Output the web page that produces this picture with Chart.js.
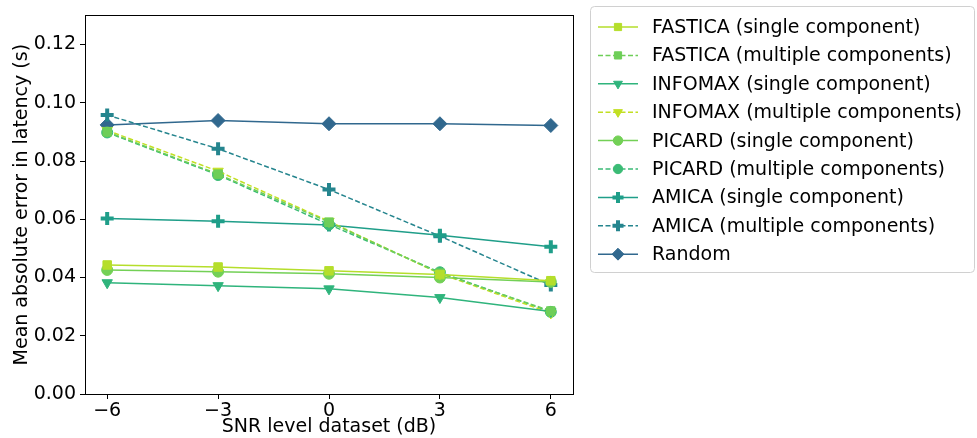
<!DOCTYPE html>
<html>
<head>
<meta charset="utf-8">
<script src="https://cdn.jsdelivr.net/npm/chart.js@4.4.1/dist/chart.umd.min.js"></script>
<style>
  html, body { margin: 0; padding: 0; background: #fff; }
  #wrap { width: 977px; height: 438px; position: relative; }
</style>
</head>
<body>
<div id="wrap"><canvas id="myChart" width="977" height="438"></canvas></div>
<script>
// SNR levels (dB)
const snrLevels = [-6, -3, 0, 3, 6];

// mean absolute error in latency (s)
const fasticaSingle   = [0.0443, 0.0436, 0.0423, 0.0410, 0.0389];
const fasticaMultiple = [0.0900, 0.0755, 0.0590, 0.0415, 0.0285];
const infomaxSingle   = [0.0382, 0.0372, 0.0361, 0.0331, 0.0283];
const infomaxMultiple = [0.0905, 0.0765, 0.0593, 0.0413, 0.0278];
const picardSingle    = [0.0426, 0.0420, 0.0413, 0.0400, 0.0385];
const picardMultiple  = [0.0898, 0.0752, 0.0582, 0.0418, 0.0282];
const amicaSingle     = [0.0603, 0.0593, 0.0580, 0.0545, 0.0506];
const amicaMultiple   = [0.0958, 0.0842, 0.0702, 0.0542, 0.0374];
const randomBaseline  = [0.0924, 0.0939, 0.0928, 0.0928, 0.0922];

const yTicks = [0, 0.02, 0.04, 0.06, 0.08, 0.10, 0.12];

const FONT = "'DejaVu Sans', sans-serif";
const FS = 19;

function series(label, values, color, style, dashed) {
    let ds = {
        label: label,
        data: values.map((v, i) => ({x: snrLevels[i], y: v})),
        borderColor: color,
        backgroundColor: color,
        pointBackgroundColor: color,
        pointBorderColor: color,
        borderWidth: 1.5,
        borderDash: dashed ? [5, 2.5] : [],
        pointRadius: 5.5,
        pointBorderWidth: 1,
        pointRotation: 0,
        pointStyle: style,
        tension: 0,
        fill: false,
    };
    if (style === 'triangle') { ds.pointRotation = 180; ds.pointRadius = 6; }
    if (style === 'rect') { ds.pointRadius = 6; }
    if (style === 'rectRot') { ds.pointRadius = 7; }
    if (style === 'cross') { ds.pointBorderWidth = 4; ds.pointRadius = 6.5; }
    return ds;
}

const datasets = [
    series("FASTICA (single component)", fasticaSingle, "#b5de2b", 'rect', false),
    series("FASTICA (multiple components)", fasticaMultiple, "#6ece58", 'rect', true),
    series("INFOMAX (single component)", infomaxSingle, "#2fb47c", 'triangle', false),
    series("INFOMAX (multiple components)", infomaxMultiple, "#c2df23", 'triangle', true),
    series("PICARD (single component)", picardSingle, "#73d056", 'circle', false),
    series("PICARD (multiple components)", picardMultiple, "#3bbb75", 'circle', true),
    series("AMICA (single component)", amicaSingle, "#1f9e89", 'cross', false),
    series("AMICA (multiple components)", amicaMultiple, "#25858e", 'cross', true),
    series("Random", randomBaseline, "#31688e", 'rectRot', false),
];

// frame around the plot area
const frame = {
    id: 'frame',
    afterDatasetsDraw(chart) {
        const a = chart.chartArea, c = chart.ctx;
        c.save();
        c.strokeStyle = '#000';
        c.lineWidth = 1;
        c.strokeRect(Math.round(a.left) + 0.5, Math.round(a.top) + 0.5,
                     Math.round(a.right - a.left), Math.round(a.bottom - a.top));
        c.restore();
    }
};

// matplotlib-like legend on the right
const sideLegend = {
    id: 'sideLegend',
    afterDraw(chart) {
        const c = chart.ctx;
        const bx = 590.5, by = 6.5, bw = 384, bh = 266;
        c.save();
        c.beginPath();
        c.roundRect(bx, by, bw, bh, 4);
        c.fillStyle = 'rgba(255,255,255,0.8)';
        c.fill();
        c.strokeStyle = '#d0d0d0';
        c.lineWidth = 1;
        c.stroke();
        c.font = FS + "px " + FONT;
        c.textBaseline = 'middle';
        chart.data.datasets.forEach((ds, i) => {
            const y = 27 + i * 28.4;
            c.strokeStyle = ds.borderColor;
            c.lineWidth = 1.5;
            c.setLineDash(ds.borderDash);
            c.beginPath();
            c.moveTo(598, y);
            c.lineTo(638, y);
            c.stroke();
            c.setLineDash([]);
            c.fillStyle = ds.pointBackgroundColor;
            c.strokeStyle = ds.pointBorderColor;
            c.lineWidth = ds.pointBorderWidth;
            Chart.helpers.drawPoint(c, {
                pointStyle: ds.pointStyle,
                radius: ds.pointRadius * 0.85,
                rotation: ds.pointRotation,
                borderWidth: ds.pointBorderWidth
            }, 618, y);
            c.fillStyle = '#000';
            c.fillText(ds.label, 652, y + 1);
        });
        c.restore();
    }
};

const ctx = document.getElementById('myChart');
let myChart = new Chart(ctx, {
    type: 'line',
    data: { datasets: datasets },
    options: {
        responsive: false,
        animation: false,
        layout: { padding: { left: 0, right: 404, top: 13, bottom: 0 } },
        plugins: { legend: { display: false }, tooltip: { enabled: false } },
        scales: {
            x: {
                type: 'linear',
                min: -6.6,
                max: 6.6,
                afterBuildTicks: (s) => { s.ticks = snrLevels.map(v => ({value: v})); },
                afterFit: (s) => { s.height = 44; },
                ticks: {
                    color: '#000',
                    font: { family: FONT, size: FS },
                    padding: 1,
                    maxRotation: 0,
                    callback: (v) => String(v).replace('-', '\u2212'),
                },
                grid: { drawOnChartArea: false, drawTicks: true, tickLength: 5, color: '#000' },
                border: { display: false },
                title: {
                    display: true,
                    text: 'SNR level dataset (dB)',
                    color: '#000',
                    font: { family: FONT, size: FS },
                    padding: { top: -1, bottom: 0 },
                },
            },
            y: {
                min: 0,
                max: 0.13,
                afterBuildTicks: (s) => { s.ticks = yTicks.map(v => ({value: v})); },
                afterFit: (s) => { s.width = 85; },
                ticks: {
                    color: '#000',
                    font: { family: FONT, size: FS },
                    padding: 4,
                    callback: (v) => v.toFixed(2),
                },
                grid: { drawOnChartArea: false, drawTicks: true, tickLength: 5, color: '#000' },
                border: { display: false },
                title: {
                    display: true,
                    text: 'Mean absolute error in latency (s)',
                    color: '#000',
                    font: { family: FONT, size: FS },
                    padding: { top: 11, bottom: 2 },
                },
            },
        },
    },
    plugins: [frame, sideLegend],
});
</script>
</body>
</html>
